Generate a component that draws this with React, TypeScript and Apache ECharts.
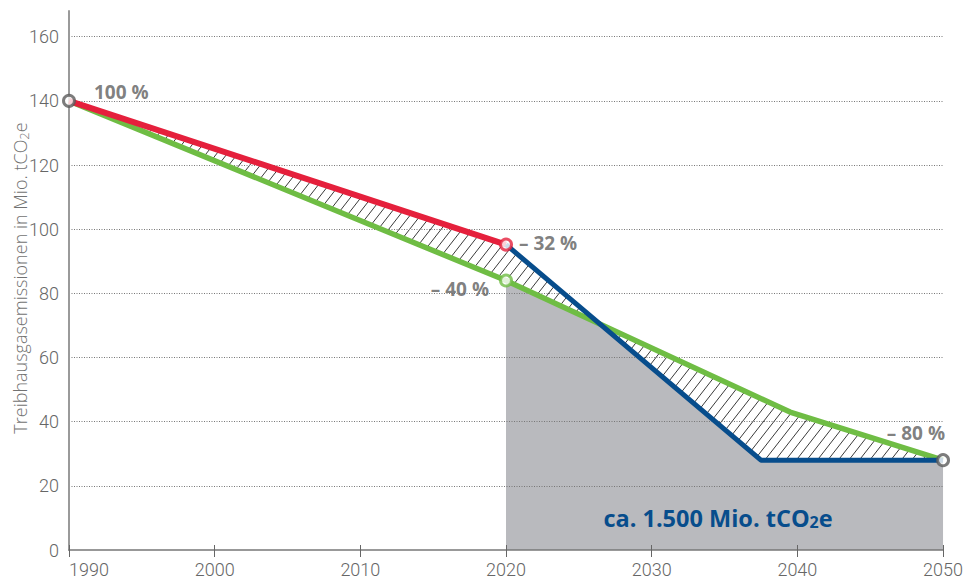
import React, { useEffect, useRef } from "react";
import * as echarts from "echarts";

// Axis ticks
const yearTicks = [1990, 2000, 2010, 2020, 2030, 2040, 2050];
const emissionTicks = [0, 20, 40, 60, 80, 100, 120, 140, 160];
const emissionAxisMax = 168;

// Reference path 1990–2020 (red)
const referenceYears = [1990, 2020];
const referenceValues = [140, 95.2];

// Target path 1990–2050 (green)
const targetYears = [1990, 2020, 2039.5, 2050];
const targetValues = [140, 84, 43, 28];

// Projected path 2020–2050 (blue)
const projectedYears = [2020, 2037.5, 2050];
const projectedValues = [95.2, 28, 28];

// Milestones marked with rings
const milestoneYears = [1990, 2020, 2020, 2050];
const milestoneValues = [140, 95.2, 84, 28];
const milestoneLabels = ["100 %", "– 32 %", "– 40 %", "– 80 %"];

// Budget area start
const budgetStartYear = 2020;
const budgetBase = 0;

const axisTitleParts = ["Treibhausgasemissionen in Mio. tCO", "2", "e"];
const budgetTextParts = ["ca. 1.500 Mio. tCO", "2", "e"];

const RED = "#e5203c";
const GREEN = "#6fbd44";
const BLUE = "#074d8c";
const GREY_FILL = "#b9babe";
const MARK_GREY = "#5b5b5b";
const TEXT_GREY = "#666666";
const LABEL_GREY = "#5e5e5e";
const milestoneColors = [MARK_GREY, RED, GREEN, MARK_GREY];
const milestoneLabelPlacement = [
  { align: "left", offset: [25, -9] },
  { align: "left", offset: [13, -2] },
  { align: "right", offset: [-17, 8] },
  { align: "right", offset: [2, -27] },
];

const zip = (xs: number[], ys: number[]) => xs.map((x, i) => [x, ys[i]]);

export default function App() {
  const ref = useRef<HTMLDivElement>(null);

  useEffect(() => {
    document.body.style.margin = "0";
    if (!ref.current) return;
    const chart = echarts.init(ref.current, null, { renderer: "svg" });

    const renderAreas = (_params: any, api: any) => {
      const pt = (x: number, y: number) => api.coord([x, y]);
      // grey budget area under the target path from 2020 on
      const greyPts: number[][] = [pt(budgetStartYear, budgetBase)];
      targetYears.forEach((yr, i) => {
        if (yr >= budgetStartYear) greyPts.push(pt(yr, targetValues[i]));
      });
      greyPts.push(pt(targetYears[targetYears.length - 1], budgetBase));

      // hatched gap between actual/projected path and target path
      const hatchPts: number[][] = [];
      referenceYears.forEach((yr, i) => hatchPts.push(pt(yr, referenceValues[i])));
      projectedYears.forEach((yr, i) => {
        if (i > 0) hatchPts.push(pt(yr, projectedValues[i]));
      });
      for (let i = targetYears.length - 1; i >= 0; i--) {
        hatchPts.push(pt(targetYears[i], targetValues[i]));
      }

      const xs = hatchPts.map((p) => p[0]);
      const ys = hatchPts.map((p) => p[1]);
      const minX = Math.min(...xs);
      const maxX = Math.max(...xs);
      const minY = Math.min(...ys);
      const maxY = Math.max(...ys);
      const slope = Math.tan((52 * Math.PI) / 180);
      const run = (maxY - minY) / slope;
      const hatch: any[] = [];
      for (let x = minX - run; x <= maxX + 2; x += 10.5) {
        hatch.push({
          type: "line",
          shape: { x1: x, y1: maxY, x2: x + run, y2: minY },
          style: { stroke: "#3a3a3a", lineWidth: 1 },
        });
      }

      return {
        type: "group",
        children: [
          { type: "polygon", shape: { points: greyPts }, style: { fill: GREY_FILL } },
          { type: "polygon", shape: { points: hatchPts }, style: { fill: "#ffffff" } },
          {
            type: "group",
            clipPath: { type: "polygon", shape: { points: hatchPts } },
            children: hatch,
          },
        ],
      };
    };

    const yearMin = yearTicks[0];
    const yearMax = yearTicks[yearTicks.length - 1];
    const yearStep = yearTicks[1] - yearTicks[0];

    const sharedX = {
      type: "value",
      min: yearMin,
      max: yearMax,
      interval: yearStep,
      position: "bottom",
      splitLine: { show: false },
    };

    chart.setOption({
      animation: false,
      backgroundColor: "#ffffff",
      grid: { left: 69, right: 21, top: 11, bottom: 30, containLabel: false },
      xAxis: [
        {
          ...sharedX,
          axisLine: { show: true, onZero: false, lineStyle: { color: "#777777", width: 1.5 } },
          axisTick: { show: true, length: 7, lineStyle: { color: "#666666", width: 1 } },
          axisLabel: {
            show: true,
            margin: 10,
            color: TEXT_GREY,
            fontSize: 18,
            fontFamily: "Roboto",
            fontWeight: 300,
            alignMinLabel: "left",
            formatter: (v: number) => String(v),
          },
          z: 3,
        },
        {
          ...sharedX,
          axisLine: { show: false },
          axisTick: { show: true, inside: true, length: 5, lineStyle: { color: "#666666", width: 1 } },
          axisLabel: { show: false },
          z: 3,
        },
      ],
      yAxis: {
        type: "value",
        min: emissionTicks[0],
        max: emissionAxisMax,
        interval: emissionTicks[1] - emissionTicks[0],
        axisLine: { show: true, onZero: false, lineStyle: { color: "#9a9a9a", width: 2 } },
        axisTick: { show: false },
        axisLabel: {
          margin: 10,
          color: TEXT_GREY,
          fontSize: 18,
          fontFamily: "Roboto",
          fontWeight: 300,
          showMaxLabel: false,
          formatter: (v: number) => (emissionTicks.includes(v) ? String(v) : ""),
        },
        splitLine: {
          show: true,
          showMinLine: false,
          showMaxLine: false,
          lineStyle: { color: "#777777", type: [1, 1.5], width: 1 },
        },
        z: 2,
      },
      graphic: [
        {
          type: "text",
          x: 20,
          y: 278,
          rotation: Math.PI / 2,
          style: {
            text: `{a|${axisTitleParts[0]}}{s|${axisTitleParts[1]}}{a|${axisTitleParts[2]}}`,
            align: "center",
            verticalAlign: "middle",
            rich: {
              a: { fontSize: 18, fontFamily: "Open Sans", fontWeight: 300, fill: "#727272" },
              s: { fontSize: 13, fontFamily: "Open Sans", fontWeight: 300, fill: "#727272", padding: [7, 0, 0, 0] },
            },
          },
          z: 10,
        },
        {
          type: "text",
          x: 718,
          y: 518,
          style: {
            text: `{a|${budgetTextParts[0]}}{s|${budgetTextParts[1]}}{a|${budgetTextParts[2]}}`,
            align: "center",
            verticalAlign: "middle",
            rich: {
              a: { fontSize: 23.5, fontFamily: "Open Sans", fontWeight: "bold", fill: BLUE },
              s: { fontSize: 16, fontFamily: "Open Sans", fontWeight: "bold", fill: BLUE, padding: [8, 0, 0, 0] },
            },
          },
          z: 10,
        },
      ],
      series: [
        {
          type: "custom",
          coordinateSystem: "cartesian2d",
          data: [[budgetStartYear, budgetBase]],
          renderItem: renderAreas,
          silent: true,
          z: -1,
        },
        {
          type: "line",
          data: zip(targetYears, targetValues),
          symbol: "none",
          lineStyle: { color: GREEN, width: 5.5 },
          z: 3,
        },
        {
          type: "line",
          data: zip(referenceYears, referenceValues),
          symbol: "none",
          lineStyle: { color: RED, width: 6 },
          z: 3,
        },
        {
          type: "line",
          data: zip(projectedYears, projectedValues),
          symbol: "none",
          lineStyle: { color: BLUE, width: 5 },
          z: 4,
        },
        {
          type: "scatter",
          symbol: "circle",
          symbolSize: 11,
          z: 6,
          data: milestoneYears.map((yr, i) => ({
            value: [yr, milestoneValues[i]],
            itemStyle: { color: "#ffffff", borderColor: milestoneColors[i], borderWidth: 3 },
            label: {
              show: true,
              formatter: milestoneLabels[i],
              position: "inside",
              verticalAlign: "middle",
              align: milestoneLabelPlacement[i].align,
              offset: milestoneLabelPlacement[i].offset,
              color: LABEL_GREY,
              fontSize: 19,
              fontFamily: "Open Sans",
              fontWeight: "bold",
            },
          })),
        },
      ],
    });

    return () => chart.dispose();
  }, []);

  return (
    <div
      ref={ref}
      style={{ position: "fixed", left: 0, top: 0, width: 966, height: 580 }}
    />
  );
}
